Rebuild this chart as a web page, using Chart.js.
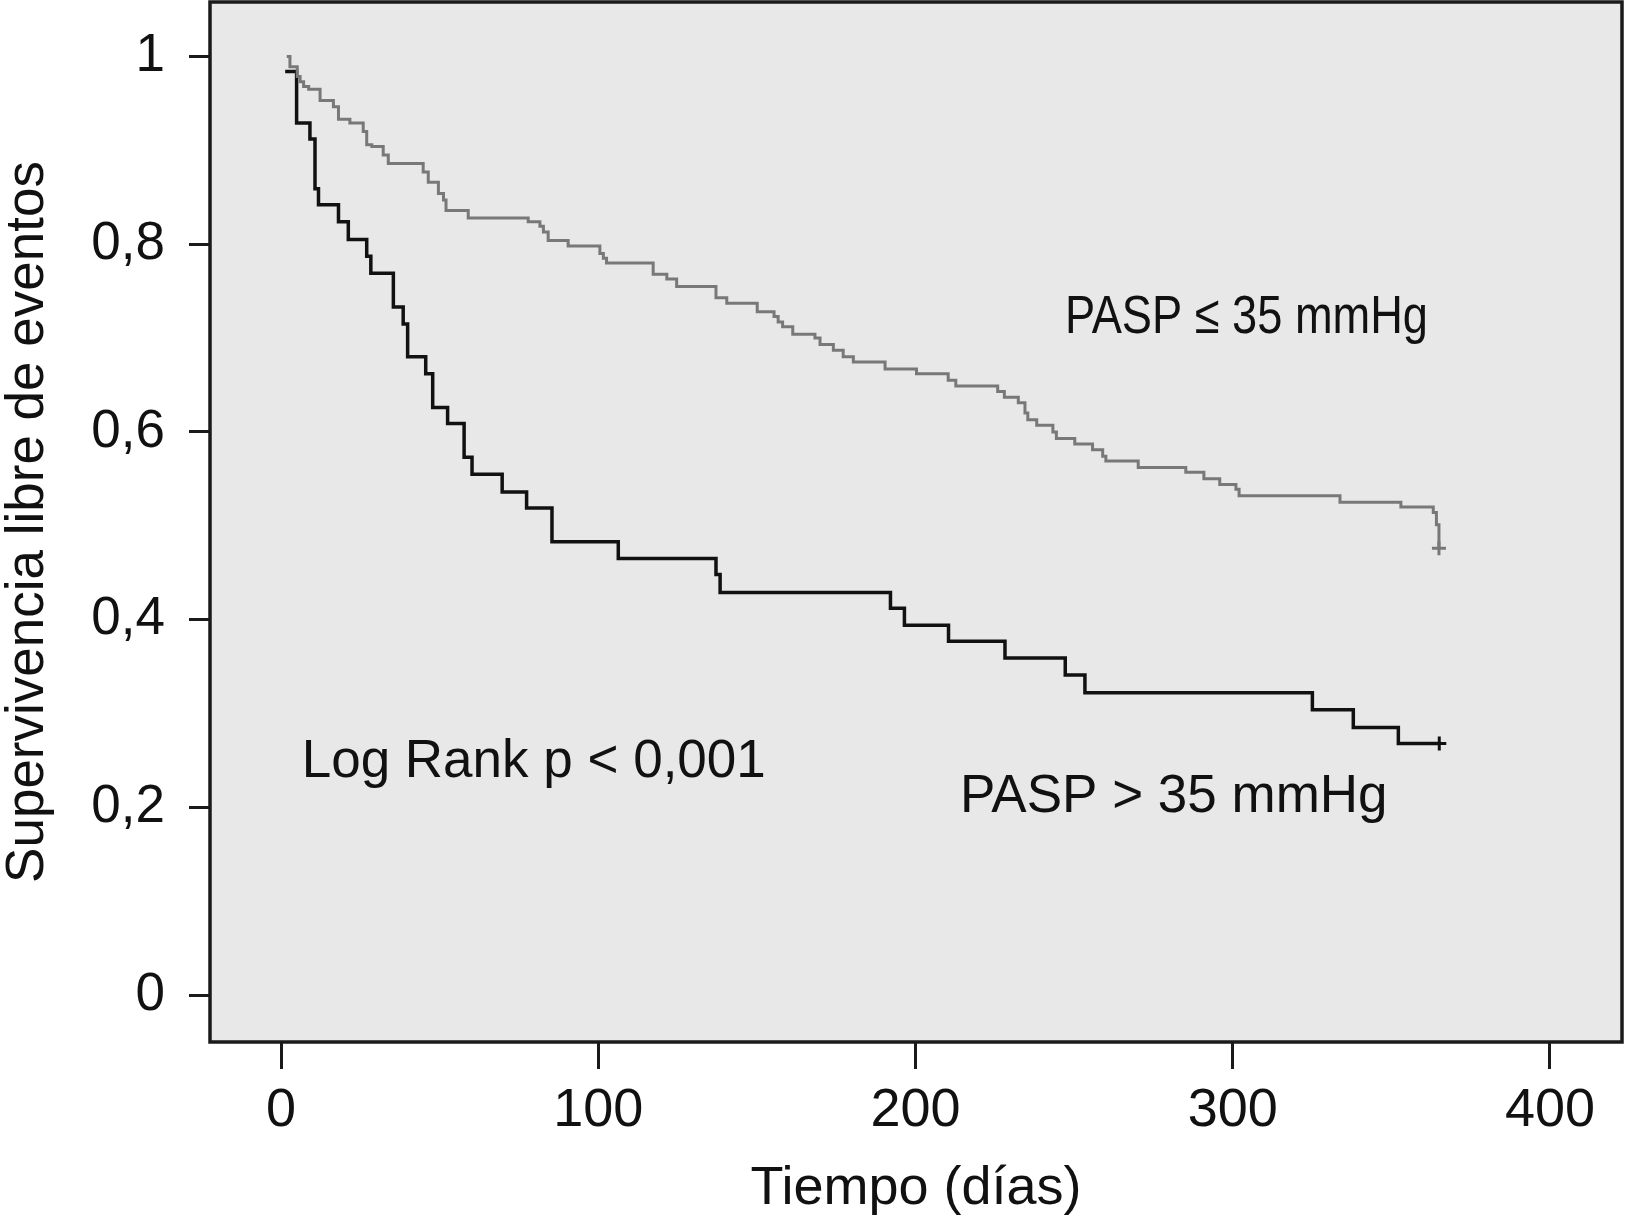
<!DOCTYPE html>
<html>
<head>
<meta charset="utf-8">
<script src="https://cdn.jsdelivr.net/npm/chart.js@4.4.1/dist/chart.umd.min.js"></script>
<style>
  html, body { margin: 0; padding: 0; background: #fff; }
  #km { display: block; }
</style>
</head>
<body>
<canvas id="km" width="1625" height="1228"></canvas>
<script>
// Kaplan-Meier: supervivencia libre de eventos segun PASP
const pasBajaDias = [1.8, 2.8, 5.1, 6.0, 7.1, 8.7, 12.3, 16.5, 18.1, 21.7, 25.9, 27.0, 28.6, 32.2, 33.8,
  44.8, 46.4, 49.6, 51.2, 52.0, 59.0, 77.9, 81.6, 82.7, 84.2, 90.5, 100.5, 101.6, 102.6,
  117.3, 121.6, 124.7, 137.1, 140.5, 150.1, 155.4, 156.7, 158.1, 161.3, 168.3, 169.9, 174.1, 177.2, 180.4,
  190.4, 200.3, 210.3, 212.7, 225.9, 228.0, 232.4, 234.5, 235.4, 238.2, 243.3, 244.4, 250.2, 255.8,
  259.0, 260.0, 270.2, 285.2, 290.9, 295.9, 301.0, 302.0, 333.8, 353.0, 363.2, 364.2, 365.0];
const pasBajaSuperv = [1.0, 0.989, 0.9785, 0.973, 0.968, 0.965, 0.953, 0.9465, 0.933, 0.929, 0.920, 0.906, 0.904, 0.895, 0.886,
  0.877, 0.866, 0.854, 0.847, 0.836, 0.828, 0.824, 0.819, 0.813, 0.804, 0.798, 0.790, 0.785, 0.780,
  0.768, 0.763, 0.755, 0.743, 0.737, 0.728, 0.723, 0.717, 0.712, 0.704, 0.700, 0.693, 0.687, 0.680, 0.6745,
  0.667, 0.662, 0.655, 0.649, 0.643, 0.637, 0.631, 0.620, 0.613, 0.607, 0.600, 0.593, 0.587, 0.581,
  0.574, 0.569, 0.562, 0.557, 0.550, 0.544, 0.539, 0.532, 0.525, 0.520, 0.514, 0.501, 0.476];

const pasAltaDias = [1.3, 4.9, 9.1, 10.7, 11.8, 18.1, 21.2, 27.0, 28.3, 35.4, 38.5, 39.9, 45.6, 47.8,
  52.5, 57.7, 60.2, 69.7, 77.4, 85.4, 106.3, 137.1, 138.4, 192.1, 196.5, 210.4, 228.2, 247.2,
  253.4, 325.1, 338.0, 352.2, 365.1];
const pasAltaSuperv = [0.984, 0.929, 0.912, 0.859, 0.842, 0.824, 0.805, 0.787, 0.769, 0.733, 0.715, 0.680, 0.662, 0.626,
  0.609, 0.573, 0.555, 0.536, 0.519, 0.483, 0.465, 0.448, 0.429, 0.412, 0.394, 0.377, 0.359, 0.341,
  0.322, 0.304, 0.285, 0.268, 0.268];

const xTicks = [0, 100, 200, 300, 400];
const yTicks = [0, 0.2, 0.4, 0.6, 0.8, 1];
const yTickLabels = ['0', '0,2', '0,4', '0,6', '0,8', '1'];

const FONT = "'Liberation Sans', Arial, sans-serif";

// textos dentro del grafico (en unidades de los ejes)
const notas = [
  { text: 'PASP \u2264 35 mmHg', x: 247.1, y: 0.7057, width: 363 },
  { text: 'PASP > 35 mmHg', x: 214.0, y: 0.1947 },
  { text: 'Log Rank p < 0,001', x: 6.5, y: 0.2326 }
];

function toPoints(dias, valores) {
  return dias.map((d, i) => ({ x: d, y: valores[i] }));
}

function censorRadius(n) {
  return ctx => (ctx.dataIndex === n - 1 ? 7 : 0);
}

const plotFrame = {
  id: 'plotFrame',
  beforeDraw(chart) {
    const { ctx, chartArea: a } = chart;
    ctx.save();
    ctx.fillStyle = '#e8e8e8';
    ctx.fillRect(a.left, a.top, a.right - a.left, a.bottom - a.top);
    ctx.restore();
  },
  afterDatasetsDraw(chart) {
    const { ctx, chartArea: a, scales } = chart;
    ctx.save();
    ctx.strokeStyle = '#1a1a1a';
    ctx.lineWidth = 3.5;
    ctx.strokeRect(a.left, a.top, a.right - a.left, a.bottom - a.top);

    ctx.fillStyle = '#111';
    ctx.font = '53px ' + FONT;
    ctx.textAlign = 'left';
    ctx.textBaseline = 'alphabetic';
    notas.forEach(n => {
      const px = scales.x.getPixelForValue(n.x);
      const py = scales.y.getPixelForValue(n.y);
      ctx.save();
      ctx.translate(px, py);
      if (n.width) {
        ctx.font = '54px ' + FONT;
        const w = ctx.measureText(n.text).width;
        ctx.scale(n.width / w, 1);
      }
      ctx.fillText(n.text, 0, 0);
      ctx.restore();
    });
    ctx.restore();
  }
};

new Chart(document.getElementById('km'), {
  type: 'line',
  data: {
    datasets: [
      {
        label: 'PASP \u2264 35 mmHg',
        data: toPoints(pasBajaDias, pasBajaSuperv),
        stepped: true,
        borderColor: '#787878',
        borderWidth: 3,
        pointStyle: 'cross',
        pointRadius: censorRadius(pasBajaDias.length),
        pointBorderColor: '#787878',
        pointBorderWidth: 3,
        pointHoverRadius: 0,
        fill: false
      },
      {
        label: 'PASP > 35 mmHg',
        data: toPoints(pasAltaDias, pasAltaSuperv),
        stepped: true,
        borderColor: '#111111',
        borderWidth: 3.5,
        pointStyle: 'cross',
        pointRadius: censorRadius(pasAltaDias.length),
        pointBorderColor: '#111111',
        pointBorderWidth: 3,
        pointHoverRadius: 0,
        fill: false
      }
    ]
  },
  options: {
    responsive: false,
    animation: false,
    devicePixelRatio: 1,
    layout: { autoPadding: false, padding: { left: 0, right: 3, top: 2, bottom: 0 } },
    plugins: {
      legend: { display: false },
      tooltip: { enabled: false }
    },
    scales: {
      x: {
        type: 'linear',
        min: -22.4,
        max: 422.7,
        afterFit: s => { s.height = 186; s.paddingLeft = 0; s.paddingRight = 0; },
        afterBuildTicks: s => { s.ticks = xTicks.map(v => ({ value: v })); },
        grid: { drawOnChartArea: false, drawTicks: true, tickLength: 27, tickWidth: 3, tickColor: '#1a1a1a' },
        border: { display: false },
        ticks: {
          padding: 10,
          color: '#111',
          font: { family: FONT, size: 54 },
          maxRotation: 0,
          callback: v => String(v)
        },
        title: {
          display: true,
          text: 'Tiempo (días)',
          color: '#111',
          font: { family: FONT, size: 54, lineHeight: 1 },
          padding: { top: 0, bottom: 12 }
        }
      },
      y: {
        type: 'linear',
        min: -0.05,
        max: 1.058,
        afterFit: s => { s.width = 210; s.paddingTop = 0; s.paddingBottom = 0; },
        afterBuildTicks: s => { s.ticks = yTicks.map(v => ({ value: v })); },
        grid: { drawOnChartArea: false, drawTicks: true, tickLength: 21, tickWidth: 3, tickColor: '#1a1a1a' },
        border: { display: false },
        ticks: {
          padding: 24,
          color: '#111',
          font: { family: FONT, size: 53 },
          callback: v => yTickLabels[yTicks.indexOf(v)]
        },
        title: {
          display: true,
          text: 'Supervivencia libre de eventos',
          color: '#111',
          font: { family: FONT, size: 53, lineHeight: 1 },
          padding: { top: 2, bottom: 0 }
        }
      }
    }
  },
  plugins: [plotFrame]
});
</script>
</body>
</html>
